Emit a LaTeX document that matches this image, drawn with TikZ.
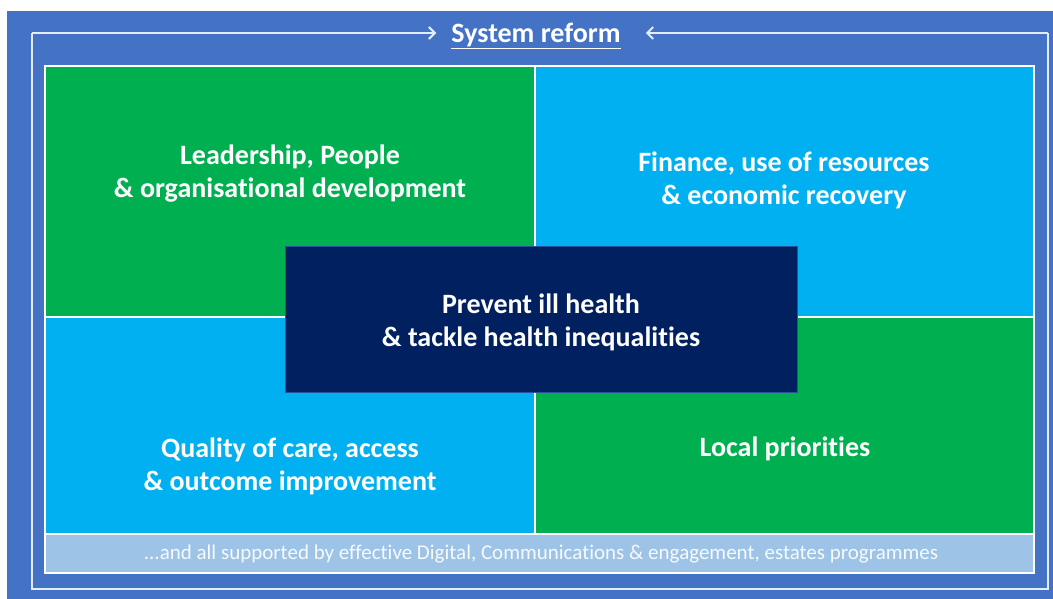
\documentclass[tikz,border=0pt]{standalone}
\usepackage{fontspec}
\setmainfont{Carlito}[Ligatures={NoCommon}]
\usetikzlibrary{arrows.meta}
\definecolor{bgblue}{HTML}{4472C4}
\definecolor{qgreen}{HTML}{00B050}
\definecolor{qblue}{HTML}{00B0F0}
\definecolor{navy}{HTML}{002060}
\definecolor{strip}{HTML}{9DC3E6}
\definecolor{framecol}{HTML}{E4ECF8}
\begin{document}
\begin{tikzpicture}[x=1pt,y=-1pt,
  quad/.style={draw=white,line width=1.2pt},
  qtext/.style={text=white,font=\fontsize{28}{33}\selectfont\bfseries,align=center},
  framepen/.style={draw=framecol,line width=2.2pt},
  arrowpen/.style={draw=framecol,line width=2.2pt,-{Straight Barb[length=6pt,width=12pt,line width=2pt]}}]
\useasboundingbox (0,0) rectangle (1053,599);
\fill[white] (0,0) rectangle (1053,599);
\fill[bgblue] (7,11) rectangle (1053,599);
% quadrants
\filldraw[quad,fill=qgreen] (45,66) rectangle (535,317);
\filldraw[quad,fill=qblue] (535,66) rectangle (1034,317);
\filldraw[quad,fill=qblue] (45,317) rectangle (535,534);
\filldraw[quad,fill=qgreen] (535,317) rectangle (1034,534);
\filldraw[quad,fill=strip] (45,534) rectangle (1034,573);
% centre box
\filldraw[fill=navy,draw=bgblue!60!navy,line width=0.8pt] (285,246) rectangle (797,392);
% texts
\node[qtext] (lead) at (290,174) {Leadership, People\\\& organisational development};
\node[qtext] (fin) at (784,180) {Finance, use of resources\\\& economic recovery};
\node[qtext] (qual) at (290,466) {Quality of care, access\\\& outcome improvement};
\node[qtext] (loc) at (785,449) {Local priorities};
\node[qtext] (prev) at (541,322) {Prevent ill health\\\& tackle health inequalities};
\node[text=white!92!strip,font=\fontsize{21}{24}\selectfont] (sup) at (541,554) {...and all supported by effective Digital, Communications \& engagement, estates programmes};
% title and frame
\node[text=white,font=\fontsize{28}{32}\selectfont\bfseries,inner sep=0pt] (title) at (536,36) {\underline{System reform}};
\coordinate (tl) at (32,33);
\coordinate (tr) at (1048,33);
\coordinate (bl) at (32,589);
\coordinate (br) at (1048,589);
\draw[framepen,line join=miter] (tl) -- (bl) -- (br) -- (tr);
\draw[arrowpen] (tl) -- ([xshift=-15pt]title.west |- tl);
\draw[arrowpen] (tr) -- ([xshift=25pt]title.east |- tr);
\end{tikzpicture}
\end{document}
